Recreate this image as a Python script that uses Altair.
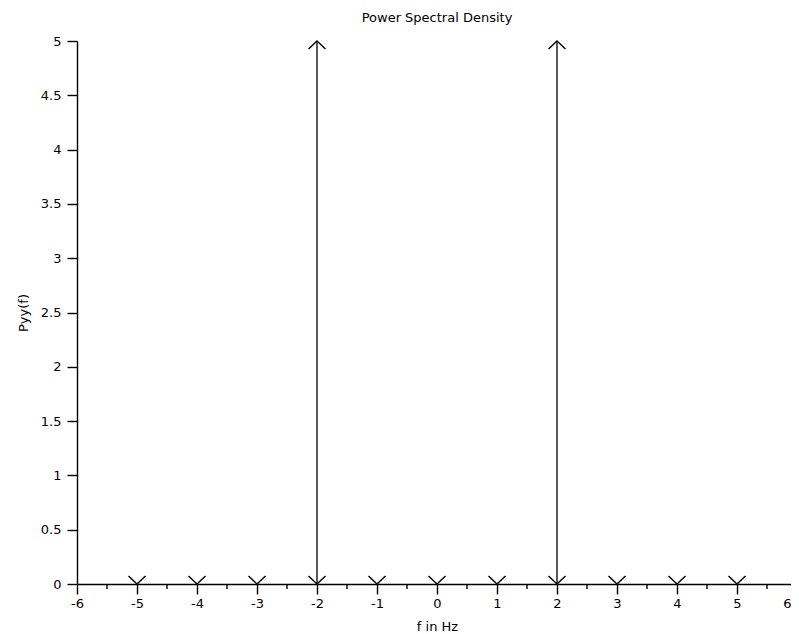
import altair as alt
import pandas as pd

# Data
freqs = [-5, -4, -3, -2, -1, 0, 1, 2, 3, 4, 5]
psd = [0, 0, 0, 5, 0, 0, 0, 5, 0, 0, 0]
x_major = [-6, -5, -4, -3, -2, -1, 0, 1, 2, 3, 4, 5, 6]
x_minor = [-5.5, -4.5, -3.5, -2.5, -1.5, -0.5, 0.5, 1.5, 2.5, 3.5, 4.5, 5.5]
y_major = [0, 0.5, 1, 1.5, 2, 2.5, 3, 3.5, 4, 4.5, 5]

df = pd.DataFrame({"f": freqs, "p": psd})
minor_df = pd.DataFrame({"m": x_minor})

W, H = 720, 543
FONT = "DejaVu Sans"

xscale = alt.Scale(domain=[-6, 6], nice=False, zero=False)
yscale = alt.Scale(domain=[0, 5], nice=False)

xaxis = alt.Axis(
    values=x_major, labelExpr="'' + datum.value", tickSize=10,
    labelPadding=3, title="f in Hz",
    labelAlign=alt.condition("datum.value == 6", alt.value("right"), alt.value("center")),
    labelOffset=alt.condition("datum.value == 6", alt.value(-6), alt.value(0)),
    labelFlush=False, labelOverlap=False, grid=False, titlePadding=10)
yaxis = alt.Axis(values=y_major, labelExpr="'' + datum.value", tickSize=10,
                 labelPadding=6, title="Pyy(f)", labelFlush=False,
                 labelOverlap=False, grid=False, titlePadding=10)

base = alt.Chart(df)

stems = base.mark_rule(color="black", strokeWidth=1.3).encode(
    x=alt.X("f:Q", scale=xscale, axis=xaxis),
    y=alt.Y("p:Q", scale=yscale, axis=yaxis),
    y2=alt.datum(0),
)

down_heads = base.mark_point(
    shape="M-1,-0.95L0,0L1,-0.95", filled=False, color="black",
    strokeWidth=1.4, size=289, opacity=1
).encode(
    x=alt.X("f:Q", scale=xscale),
    y=alt.datum(0),
)

up_heads = base.transform_filter("datum.p > 0").mark_point(
    shape="M-1,0.95L0,0L1,0.95", filled=False, color="black",
    strokeWidth=1.4, size=289, opacity=1
).encode(
    x=alt.X("f:Q", scale=xscale),
    y=alt.Y("p:Q", scale=yscale),
)

minor_ticks = alt.Chart(minor_df).mark_rule(color="black", strokeWidth=1.4).encode(
    x=alt.X("m:Q", scale=xscale),
    y=alt.value(H),
    y2=alt.value(H + 5),
)

chart = alt.layer(stems, down_heads, up_heads, minor_ticks).properties(
    width=W, height=H,
    title=alt.TitleParams("Power Spectral Density", font=FONT, fontSize=13,
                          fontWeight="normal", color="black", offset=10),
    autosize=alt.AutoSizeParams(type="none"),
    padding={"left": 69, "top": 33, "right": -6, "bottom": 48},
).configure_view(stroke=None).configure_axis(
    domainColor="black", domainWidth=1.4, tickColor="black", tickWidth=1.4,
    labelColor="black", labelFont=FONT, labelFontSize=13,
    titleFont=FONT, titleFontSize=13, titleFontWeight="normal", titleColor="black",
)

chart.save("out.html", embed_options={"renderer": "svg", "actions": False})
